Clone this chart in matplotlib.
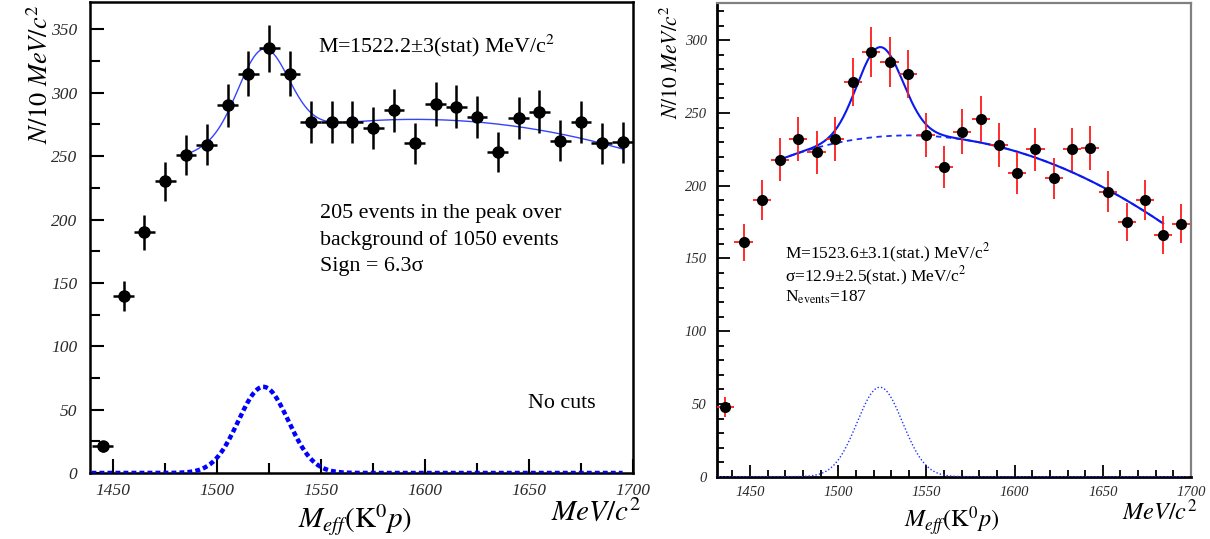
import numpy as np
import matplotlib
matplotlib.use("Agg")
import matplotlib.pyplot as plt
from matplotlib.ticker import MultipleLocator

plt.rcParams["mathtext.fontset"] = "stix"
plt.rcParams["font.family"] = ["Liberation Serif", "DejaVu Serif"]

# ---------------- data: no cuts ----------------
mass_left = [1445, 1455, 1465, 1475, 1485, 1495, 1505, 1515, 1525, 1535,
             1545, 1555, 1565, 1575, 1585, 1595, 1605, 1615, 1625, 1635,
             1645, 1655, 1665, 1675, 1685, 1695]
counts_left = [21, 140, 190, 230, 251, 259, 290, 315, 335, 315,
               277, 277, 277, 272, 286, 260, 291, 289, 281, 253,
               280, 285, 262, 277, 260, 261]
errors_left = [4.6, 11.8, 13.8, 15.2, 15.8, 16.1, 17.0, 17.7, 18.3, 17.7,
               16.6, 16.6, 16.6, 16.5, 16.9, 16.1, 17.1, 17.0, 16.8, 15.9,
               16.7, 16.9, 16.2, 16.6, 16.1, 16.2]

# fit: gaussian peak over quadratic background
peak_mean_left = 1522.2
peak_sigma_left = 12.0
peak_height_left = 68.0
bg_center_left = 1595.0
bg_coeffs_left = [279.0, 0.0, -23.4]          # in u = (m - center)/100
fit_range_left = (1485.0, 1695.0)

# ---------------- data: with cuts ----------------
mass_right = [1436.0, 1446.3, 1456.7, 1467.0, 1477.4, 1487.7, 1498.0, 1508.4,
              1518.7, 1529.1, 1539.4, 1549.7, 1560.1, 1570.4, 1580.8, 1591.1,
              1601.4, 1611.8, 1622.1, 1632.5, 1642.8, 1653.1, 1663.5, 1673.8,
              1684.2, 1694.5]
counts_right = [48, 161, 190, 218, 232, 223, 232, 271, 292, 285, 277, 235, 213,
                237, 246, 228, 209, 225, 205, 225, 226, 196, 175, 190, 166, 174]
errors_right = [6.9, 12.7, 13.8, 14.8, 15.2, 14.9, 15.2, 16.5, 17.1, 16.9,
                16.6, 15.3, 14.6, 15.4, 15.7, 15.1, 14.5, 15.0, 14.3, 15.0,
                15.0, 14.0, 13.2, 13.8, 12.9, 13.2]

peak_mean_right = 1523.6
peak_sigma_right = 12.9
peak_height_right = 61.5
bg_center_right = 1550.0
bg_coeffs_right = [234.3, -5.95, -30.14, 0.83]
fit_range_right = (1467.0, 1684.2)


def gauss(m, mean, sigma, height):
    return height * np.exp(-0.5 * ((m - mean) / sigma) ** 2)


def background(m, center, coeffs):
    u = (m - center) / 100.0
    return sum(c * u ** i for i, c in enumerate(coeffs))


fig = plt.figure(figsize=(12.10, 5.39), dpi=100)

# ================= left panel =================
axL = fig.add_axes([90 / 1210, 66 / 539, 543 / 1210, 471 / 539])
axL.set_xlim(1438.8, 1700)
axL.set_ylim(0, 371.6)
axL.xaxis.set_major_locator(MultipleLocator(50))
axL.xaxis.set_minor_locator(MultipleLocator(25))
axL.yaxis.set_major_locator(MultipleLocator(50))
axL.yaxis.set_minor_locator(MultipleLocator(25))
axL.tick_params(which="both", direction="in", width=1.5, colors="black",
                labelcolor="#2a2a2a", labelsize=12.5)
axL.tick_params(which="major", length=10, pad=7)
axL.tick_params(which="minor", length=7)
axL.tick_params(axis="y", pad=9)
for lab in axL.get_xticklabels() + axL.get_yticklabels():
    lab.set_fontstyle("italic")
for s in axL.spines.values():
    s.set_linewidth(1.8)
    s.set_color("black")

mL = np.linspace(fit_range_left[0], fit_range_left[1], 400)
axL.plot(mL, background(mL, bg_center_left, bg_coeffs_left)
         + gauss(mL, peak_mean_left, peak_sigma_left, peak_height_left),
         color="#3344ff", lw=1.0, zorder=3)
mG = np.linspace(1439.5, 1695, 600)
axL.plot(mG, gauss(mG, peak_mean_left, peak_sigma_left, peak_height_left),
         color="#0000ff", lw=3.2, dashes=(1.1, 0.7), zorder=3)

axL.errorbar(mass_left, counts_left, yerr=errors_left, xerr=5, fmt="o",
             color="black", ms=8, elinewidth=1.8, capsize=0, zorder=4)

axL.text(1548.4, 337, "M=1522.2\u00b13(stat) MeV/c$^2$", fontsize=15.8,
         va="center", ha="left")
axL.text(1549.4, 205, "205 events in the peak over", fontsize=15.8,
         va="center", ha="left")
axL.text(1549.4, 184, "background of 1050 events", fontsize=15.8,
         va="center", ha="left")
axL.text(1549.4, 163, "Sign = 6.3\u03c3", fontsize=15.8,
         va="center", ha="left")
axL.text(1649.4, 55, "No cuts", fontsize=15.8, va="center", ha="left")

fig.text(40 / 1210, 1 - 4 / 539, "$N/10\\ MeV/c^2$", rotation=90,
         ha="center", va="top", fontsize=19)
fig.text(355 / 1210, 1 - 520 / 539, "$M_{eff}(\\mathrm{K}^{0}p)$",
         ha="center", va="center", fontsize=21)
fig.text(596 / 1210, 1 - 513 / 539, "$MeV/c^2$",
         ha="center", va="center", fontsize=21)

# ================= right panel =================
axR = fig.add_axes([716.7 / 1210, 62.3 / 539, 474.3 / 1210, 474 / 539])
axR.set_xlim(1431.1, 1700)
axR.set_ylim(0, 325.8)
axR.xaxis.set_major_locator(MultipleLocator(50))
axR.xaxis.set_minor_locator(MultipleLocator(10))
axR.yaxis.set_major_locator(MultipleLocator(50))
axR.yaxis.set_minor_locator(MultipleLocator(10))
axR.tick_params(which="both", direction="in", width=1.3, colors="black",
                labelcolor="#2a2a2a", labelsize=10.5)
axR.tick_params(which="major", length=9, pad=7)
axR.tick_params(which="minor", length=5)
axR.tick_params(axis="y", pad=7)
for lab in axR.get_xticklabels() + axR.get_yticklabels():
    lab.set_fontstyle("italic")
for side in ("left", "bottom"):
    axR.spines[side].set_linewidth(2.0)
    axR.spines[side].set_color("black")
for side in ("top", "right"):
    axR.spines[side].set_linewidth(1.6)
    axR.spines[side].set_color("#808080")

mR = np.linspace(fit_range_right[0], fit_range_right[1], 400)
bgR = background(mR, bg_center_right, bg_coeffs_right)
axR.plot(mR, bgR, color="#1a2bff", lw=1.3, dashes=(3, 2.5), zorder=3)
axR.plot(mR, bgR + gauss(mR, peak_mean_right, peak_sigma_right, peak_height_right),
         color="#0a1aee", lw=1.5, zorder=3)
mG2 = np.linspace(1432, 1699, 600)
axR.plot(mG2, gauss(mG2, peak_mean_right, peak_sigma_right, peak_height_right),
         color="#2233ff", lw=1.0, dashes=(1, 1.5), zorder=3)

axR.errorbar(mass_right, counts_right, yerr=errors_right, xerr=5.15, fmt="o",
             color="black", ecolor="#ff1a1a", ms=7, elinewidth=1.3,
             capsize=0, zorder=4)

axR.text(1469.8, 153.7, "M=1523.6\u00b13.1(stat.) MeV/c$^2$", fontsize=12.5,
         va="center", ha="left")
axR.text(1469.8, 138.0, "\u03c3=12.9\u00b12.5(stat.) MeV/c$^2$", fontsize=12.5,
         va="center", ha="left")
axR.text(1469.8, 123.5, "N$_{\\mathrm{events}}$=187", fontsize=12.5,
         va="center", ha="left")

fig.text(672 / 1210, 1 - 5 / 539, "$N/10\\ MeV/c^2$", rotation=90,
         ha="center", va="top", fontsize=15.5)
fig.text(952 / 1210, 1 - 521 / 539, "$M_{eff}(\\mathrm{K}^{0}p)$",
         ha="center", va="center", fontsize=17.5)
fig.text(1160 / 1210, 1 - 512 / 539, "$MeV/c^2$",
         ha="center", va="center", fontsize=17.5)

fig.savefig("out.png", dpi=100)
